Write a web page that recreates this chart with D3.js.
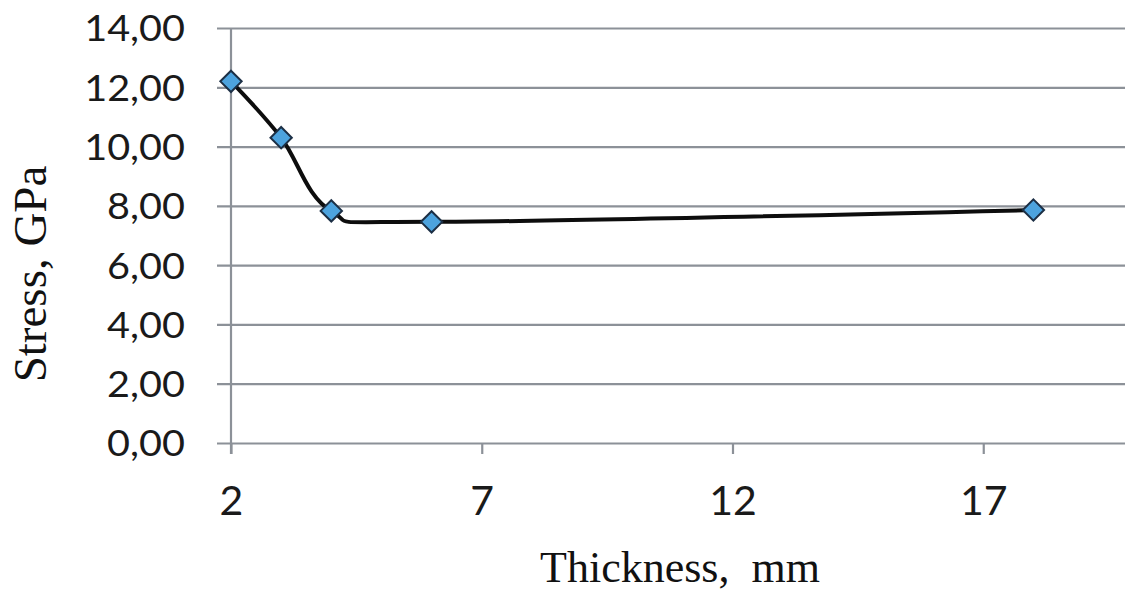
<!DOCTYPE html>
<html>
<head>
<meta charset="utf-8">
<script src="https://cdn.jsdelivr.net/npm/d3@7"></script>
<style>
  html, body { margin: 0; padding: 0; background: #ffffff; }
  svg { display: block; }
</style>
</head>
<body>
<svg id="chart" width="1125" height="594"></svg>
<script>
// Stress vs. plate thickness
const thickness = [2, 3, 4, 6, 18];            // mm
const stress = [12.2, 10.3, 7.83, 7.46, 7.86];  // GPa
const xTicks = [2, 7, 12, 17];
const yTicks = [0, 2, 4, 6, 8, 10, 12, 14];
const xTitle = "Thickness,  mm";
const yTitle = "Stress, GPa";

const svg = d3.select("#chart");
const W = 1125, H = 594;

const x = d3.scaleLinear().domain([2, 22]).range([231, 1234]);
const y = d3.scaleLinear().domain([0, 14]).range([443, 28]);

const gridColor = "#8c9198";

// horizontal gridlines with short ticks on the left
const yAxis = d3.axisLeft(y)
  .tickValues(yTicks)
  .tickSize(-(W - 217))
  .tickFormat(d => d3.format(".2f")(d).replace(".", ","));

const gy = svg.append("g")
  .attr("transform", "translate(217,0)")
  .call(yAxis);
gy.select(".domain").remove();
gy.selectAll(".tick line")
  .attr("stroke", gridColor)
  .attr("stroke-width", 2.2);
gy.selectAll(".tick text")
  .attr("x", 0)
  .attr("dy", "0.36em")
  .attr("text-anchor", "end")
  .attr("fill", "#1a1a1a")
  .style("font-family", "Lato, 'Open Sans', sans-serif")
  .style("font-size", "36px")
  .attr("transform", "translate(-32,0) scale(1.1,1)");

// vertical axis line at x = 2
svg.append("line")
  .attr("x1", x(2)).attr("x2", x(2))
  .attr("y1", y(14)).attr("y2", y(0) + 11)
  .attr("stroke", gridColor)
  .attr("stroke-width", 2.2);

// bottom ticks and labels
const xAxis = d3.axisBottom(x)
  .tickValues(xTicks)
  .tickSize(11)
  .tickFormat(d3.format("d"));
const gx = svg.append("g")
  .attr("transform", `translate(0,${y(0)})`)
  .call(xAxis);
gx.select(".domain").remove();
gx.selectAll(".tick line")
  .attr("stroke", gridColor)
  .attr("stroke-width", 2.2);
gx.selectAll(".tick text")
  .attr("y", 72)
  .attr("dy", 0)
  .attr("fill", "#1a1a1a")
  .style("font-family", "Lato, 'Open Sans', sans-serif")
  .style("font-size", "41px");

// smoothed data line
const pts = thickness.map((t, i) => [t, stress[i]]);
const line = d3.line()
  .x(d => x(d[0]))
  .y(d => y(d[1]))
  .curve(d3.curveCardinal.tension(0));

svg.append("path")
  .datum(pts)
  .attr("d", line)
  .attr("fill", "none")
  .attr("stroke", "#0d0d0d")
  .attr("stroke-width", 4)
  .attr("stroke-linejoin", "round");

// diamond markers
const diamond = d3.symbol().type(d3.symbolDiamond2).size(290);
svg.append("g")
  .selectAll("path")
  .data(pts)
  .join("path")
  .attr("d", diamond)
  .attr("transform", d => `translate(${x(d[0])},${y(d[1])})`)
  .attr("fill", "#4da3de")
  .attr("stroke", "#1c2f45")
  .attr("stroke-width", 2);

// axis titles
svg.append("text")
  .attr("x", 680)
  .attr("y", 582)
  .attr("text-anchor", "middle")
  .attr("fill", "#111")
  .style("font-family", "'Liberation Serif', 'Times New Roman', serif")
  .style("font-size", "44px")
  .style("white-space", "pre")
  .text(xTitle);

svg.append("text")
  .attr("transform", "translate(46,274) rotate(-90)")
  .attr("text-anchor", "middle")
  .attr("fill", "#111")
  .style("font-family", "'Liberation Serif', 'Times New Roman', serif")
  .style("font-size", "47px")
  .text(yTitle);
</script>
</body>
</html>
